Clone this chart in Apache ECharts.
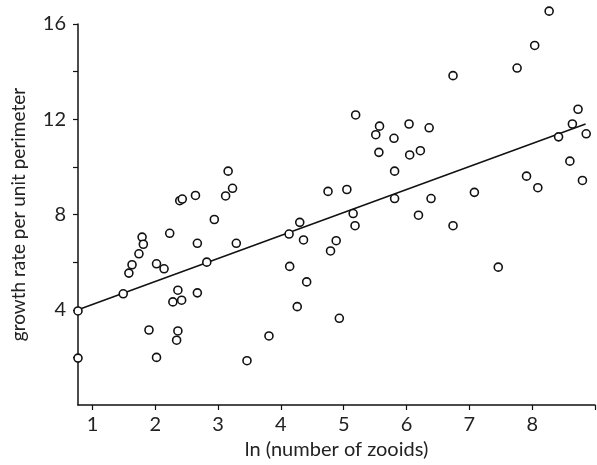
<!DOCTYPE html>
<html>
<head>
<meta charset="utf-8">
<script src="https://cdn.jsdelivr.net/npm/echarts@6/dist/echarts.min.js"></script>
<style>
  html, body { margin: 0; padding: 0; background: #fff; }
  #chart { width: 597px; height: 465px; }
</style>
</head>
<body>
<div id="chart"></div>
<script>
// ln(number of zooids)
const lnZooids = [
  3.16, 2.64, 2.39, 2.43, 3.12, 3.23, 2.94, 1.79, 1.81, 2.23,
  2.67, 3.29, 1.74, 1.63, 1.58, 2.02, 2.14, 2.82, 4.13, 4.30,
  4.14, 1.49, 2.67, 2.36, 2.28, 2.42, 0.77, 4.26, 1.90, 2.36,
  2.34, 3.81, 0.77, 2.02, 3.46, 5.18, 6.74, 6.19, 4.36, 4.88,
  4.79, 7.46, 4.41, 4.93, 8.27, 8.04, 7.76, 6.74, 5.19, 5.57,
  5.51, 6.04, 6.36, 5.80, 8.73, 8.64, 8.86, 8.42, 5.56, 6.05,
  6.22, 8.60, 5.81, 7.91, 8.80, 8.09, 4.75, 5.05, 5.81, 6.39,
  7.08, 5.15
];
// growth rate per unit perimeter
const growthRate = [
  9.82, 8.80, 8.58, 8.65, 8.78, 9.10, 7.79, 7.05, 6.75, 7.21,
  6.79, 6.79, 6.35, 5.89, 5.54, 5.93, 5.72, 6.00, 7.18, 7.67,
  5.82, 4.67, 4.71, 4.82, 4.33, 4.40, 3.95, 4.13, 3.15, 3.11,
  2.72, 2.90, 1.97, 2.00, 1.86, 7.53, 7.53, 7.97, 6.93, 6.90,
  6.47, 5.79, 5.17, 3.64, 16.54, 15.10, 14.15, 13.83, 12.18, 11.71,
  11.35, 11.80, 11.64, 11.20, 12.42, 11.80, 11.39, 11.26, 10.61, 10.50,
  10.68, 10.24, 9.82, 9.61, 9.43, 9.125, 8.97, 9.05, 8.67, 8.67,
  8.93, 8.04
];
// fitted regression line end points
const fitX = [0.77, 8.85];
const fitY = [4.0, 11.8];

const xTicks = [1, 2, 3, 4, 5, 6, 7, 8, 9];
const xLabels = [1, 2, 3, 4, 5, 6, 7, 8];
const yTicks = [2, 4, 6, 8, 10, 12, 14, 16];
const yLabels = [4, 8, 12, 16];

const points = lnZooids.map((x, i) => [x, growthRate[i]]);
const fitLine = fitX.map((x, i) => [x, fitY[i]]);

const font = "Lato";
const ink = "#222";

const chart = echarts.init(document.getElementById("chart"));
chart.setOption({
  animation: false,
  grid: { left: 78, right: 2, top: 24, bottom: 58 },
  xAxis: {
    type: "value",
    min: 0.77,
    max: 9,
    name: "ln (number of zooids)",
    nameLocation: "middle",
    nameGap: 35,
    nameTextStyle: { fontFamily: font, fontSize: 20, color: ink },
    splitLine: { show: false },
    axisLine: { lineStyle: { color: "#111", width: 1.5 } },
    axisTick: { customValues: xTicks, length: 5, lineStyle: { color: "#111", width: 1.2 } },
    axisLabel: { customValues: xLabels, fontFamily: font, fontSize: 20, color: ink, margin: 10 },
  },
  yAxis: {
    type: "value",
    min: 0,
    max: 16,
    name: "growth rate per unit perimeter",
    nameLocation: "middle",
    nameGap: 50,
    nameTextStyle: { fontFamily: font, fontSize: 19, color: ink },
    splitLine: { show: false },
    axisLine: { show: true, lineStyle: { color: "#111", width: 1.5 } },
    axisTick: { show: true, customValues: yTicks, length: 5, lineStyle: { color: "#111", width: 1.2 } },
    axisLabel: { customValues: yLabels, fontFamily: font, fontSize: 20, color: ink, margin: 12 },
  },
  series: [
    {
      type: "line",
      data: fitLine,
      symbol: "none",
      lineStyle: { color: "#111", width: 1.5 },
      z: 1,
    },
    {
      type: "scatter",
      data: points,
      symbol: "circle",
      symbolSize: 8,
      clip: false,
      itemStyle: { color: "#fff", borderColor: "#111", borderWidth: 1.6, opacity: 1 },
      z: 2,
    },
  ],
});
</script>
</body>
</html>
